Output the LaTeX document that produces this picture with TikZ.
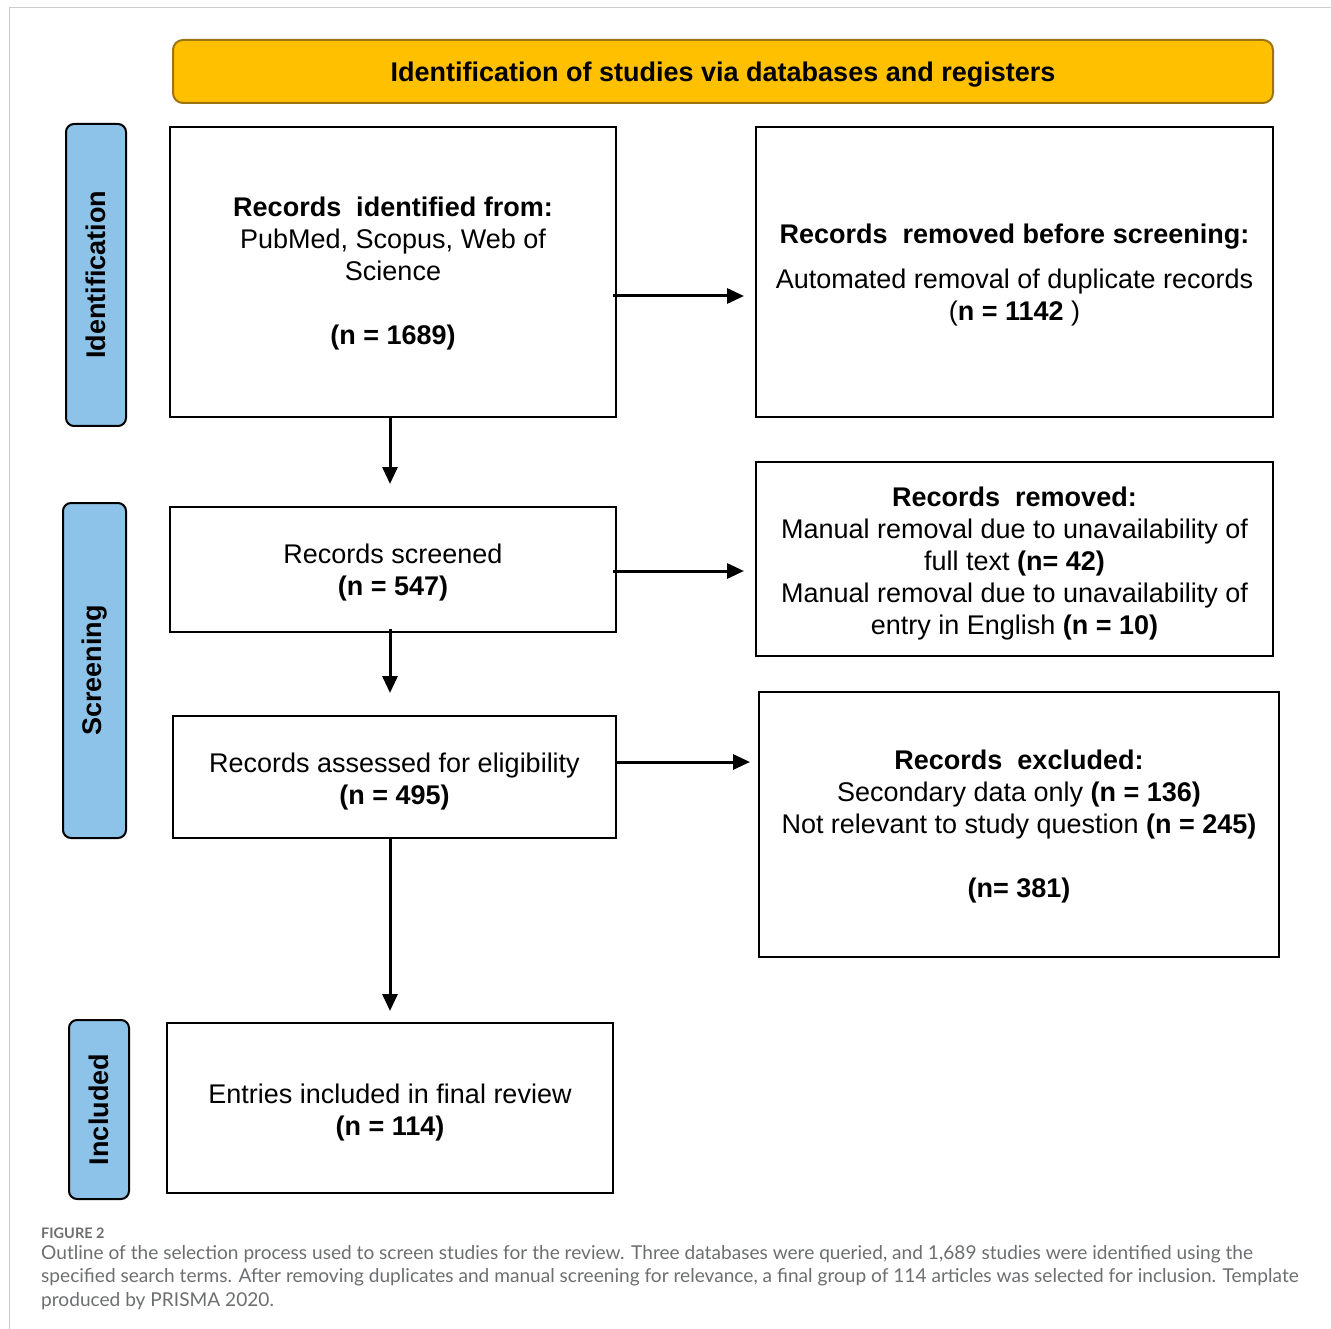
\documentclass[tikz,border=0pt]{standalone}
\usepackage{fontspec}
\setmainfont{Liberation Sans}
\newfontfamily\capfont{Lato}
\usetikzlibrary{arrows.meta}
\definecolor{hdrfill}{HTML}{FFC000}
\definecolor{hdrdraw}{HTML}{9C7412}
\definecolor{sidefill}{HTML}{8DC3E8}
\definecolor{capgray}{HTML}{6D6E70}
\definecolor{framegray}{HTML}{CCCCCC}
\newcommand{\lift}[1]{\rule{0pt}{#1}}
\begin{document}
\begin{tikzpicture}[x=1pt,y=-1pt,
  txt/.style={font=\fontsize{27}{32}\selectfont, align=center, inner sep=0pt},
  box/.style={txt, draw=black, line width=2pt, fill=white},
  side/.style={draw=black, line width=2pt, fill=sidefill, rounded corners=8pt, rotate=90,
     font=\fontsize{27}{32}\selectfont\bfseries, inner sep=0pt},
  arr/.style={line width=3pt, -{Triangle[length=17pt,width=15pt]}},
  captxt/.style={font=\capfont\fontsize{19.1}{23.5}\selectfont, text=capgray, anchor=base west, inner sep=0pt}
]
\useasboundingbox (0,0) rectangle (1331,1329);
% frame
\draw[framegray, line width=1.5pt] (9.5,1329) -- (9.5,7.5) -- (1331,7.5);

% header
\node[txt, draw=hdrdraw, fill=hdrfill, line width=2pt, rounded corners=10pt,
  minimum width=1100pt, minimum height=63pt, font=\fontsize{27}{32}\selectfont\bfseries]
  (hdr) at (723,71.5) {\lift{25.7pt}Identification of studies via databases and registers};

% side labels
\node[side, minimum width=302pt, minimum height=60pt] (sid) at (96,275) {Identification};
\node[side, minimum width=335pt, minimum height=63pt] (ssc) at (94.5,670.5) {Screening};
\node[side, minimum width=179pt, minimum height=60pt] (sin) at (99,1109.5) {Included};

% boxes
\node[box, minimum width=446pt, minimum height=290pt] (b1) at (393,272)
  {\lift{23.2pt}\textbf{Records\ \ identified from:}\\PubMed,\ Scopus, Web of\\Science\\[32pt]\textbf{(n = 1689)}};
\node[box, minimum width=517pt, minimum height=290pt] (b2) at (1014.5,272)
  {\lift{24.7pt}\textbf{Records\ \ removed before screening:}\\[13pt]Automated removal of duplicate records\\(\textbf{n = 1142} )};
\node[box, minimum width=446pt, minimum height=125pt] (b3) at (393,569.5)
  {\lift{24.7pt}Records screened\\\textbf{(n = 547)}};
\node[box, minimum width=517pt, minimum height=194pt] (b4) at (1014.5,559)
  {\lift{28pt}\textbf{Records\ \ removed:}\\Manual removal due to unavailability of\\full text \textbf{(n= 42)}\\Manual removal due to unavailability of\\entry in English \textbf{(n = 10)}};
\node[box, minimum width=443pt, minimum height=122pt] (b5) at (394.5,777)
  {\lift{28.7pt}Records assessed for eligibility\\\textbf{(n = 495)}};
\node[box, minimum width=520pt, minimum height=265pt] (b6) at (1019,824.5)
  {\lift{23.7pt}\textbf{Records\ \ excluded:}\\Secondary data only \textbf{(n = 136)}\\Not relevant to study question \textbf{(n = 245)}\\[32pt]\textbf{(n= 381)}};
\node[box, minimum width=446pt, minimum height=170pt] (b7) at (390,1108)
  {\lift{28.7pt}Entries included in final review\\\textbf{(n = 114)}};

% connector end points
\coordinate (e1) at (744,296);
\coordinate (e2) at (390,484);
\coordinate (e3) at (744,571);
\coordinate (e4) at (390,693);
\coordinate (e5) at (750,762);
\coordinate (e6) at (390,1011);

\draw[arr] ([xshift=-4pt]b1.east |- e1) -- (e1);
\draw[arr] (b1.south -| e2) -- (e2);
\draw[arr] ([xshift=-4pt]b3.east |- e3) -- (e3);
\draw[arr] ([yshift=4pt]b3.south -| e4) -- (e4);
\draw[arr] (b5.east |- e5) -- (e5);
\draw[arr] (b5.south -| e6) -- (e6);

% caption
\node[captxt, font=\capfont\bfseries\fontsize{14.5}{16}\selectfont] (c0) at (41,1238.5) {FIGURE 2};
\node[captxt] (c1) at (41,1259) {Outline of the selection process used to screen studies for the review. Three databases were queried, and 1,689 studies were identified using the};
\node[captxt] (c2) at (41,1282.5) {specified search terms. After removing duplicates and manual screening for relevance, a final group of 114 articles was selected for inclusion. Template};
\node[captxt] (c3) at (41,1306) {produced by PRISMA 2020.};
\end{tikzpicture}
\end{document}
